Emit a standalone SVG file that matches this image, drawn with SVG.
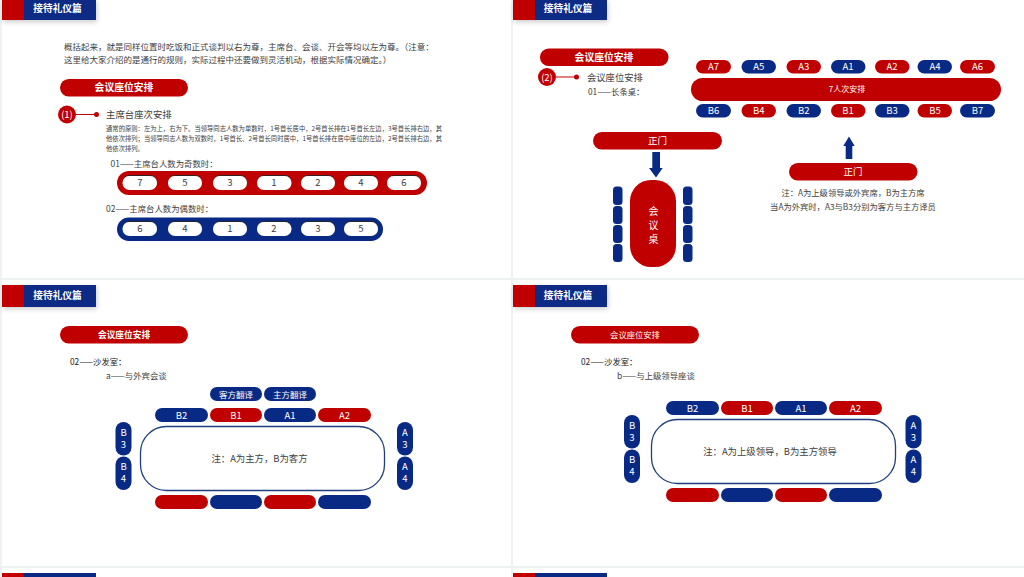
<svg xmlns="http://www.w3.org/2000/svg" width="1024" height="577" viewBox="0 0 1024 577">
<defs>
<filter id="hs" x="-10%" y="-20%" width="125%" height="160%"><feDropShadow dx="1" dy="2" stdDeviation="2.5" flood-color="#000" flood-opacity=".2"/></filter>
<filter id="ins" x="-10%" y="-30%" width="120%" height="160%"><feDropShadow dx="0" dy="-1" stdDeviation=".5" flood-color="#222" flood-opacity=".9"/></filter>
</defs>
<style>
text{font-family:"Noto Sans CJK SC","Noto Sans",sans-serif;fill:#404040}
.r{fill:#c00000}.b{fill:#092a84}.w{fill:#fff}
.sp{fill:#fff;filter:url(#ins)}
.c{text-anchor:middle}
.t{fill:#fff;text-anchor:middle;font-size:9.5px}
.h{fill:#fff;font-size:9.7px;font-weight:700;text-anchor:middle}
.p{fill:#fff;text-anchor:middle;font-size:9.8px;font-weight:700}
.s{font-size:9.5px;text-anchor:middle;fill:#404040}
.l{stroke:#c00000;stroke-width:1;fill:none}
.tb{fill:#fff;stroke:#1f3f7e;stroke-width:1.3}
</style>
<rect width="1024" height="577" fill="#eef2f2"/>
<g id="panels" class="w">
<rect x="2" y="0" width="509" height="278"/><rect x="513" y="0" width="511" height="278"/>
<rect x="2" y="280" width="509" height="286"/><rect x="513" y="280" width="511" height="286"/>
<rect x="2" y="568" width="509" height="9"/><rect x="513" y="568" width="511" height="9"/>
</g>
<g id="headers">
<g id="header-1" filter="url(#hs)"><rect class="r" x="2" y="0" width="22" height="20"/><rect class="b" x="24" y="0" width="72" height="20"/></g><text class="h" x="57.500" y="11.500">接待礼仪篇</text>
<g id="header-2" filter="url(#hs)"><rect class="r" x="513" y="0" width="22" height="20"/><rect class="b" x="535" y="0" width="72" height="20"/></g><text class="h" x="568" y="11.500">接待礼仪篇</text>
<g id="header-3" filter="url(#hs)"><rect class="r" x="2" y="285" width="22" height="22"/><rect class="b" x="24" y="285" width="72" height="22"/></g><text class="h" x="57.500" y="299">接待礼仪篇</text>
<g id="header-4" filter="url(#hs)"><rect class="r" x="513" y="285" width="22" height="22"/><rect class="b" x="535" y="285" width="72" height="22"/></g><text class="h" x="568" y="299">接待礼仪篇</text>
<g id="header-5"><rect class="r" x="2" y="573" width="22" height="4"/><rect class="b" x="24" y="573" width="72" height="4"/></g>
<g id="header-6"><rect class="r" x="513" y="573" width="22" height="4"/><rect class="b" x="535" y="573" width="72" height="4"/></g>
</g>
<g id="connectors">
<line class="l" x1="76" y1="114.500" x2="96" y2="114.500"/>
<line class="l" x1="556" y1="77" x2="576" y2="77"/>
<path id="arrow-down" class="b" d="M652.300 152H660V168H662.700L656 177.500L649 168H652.300Z"/>
<path id="arrow-up" class="b" d="M845.700 159V146H843.300L849 136.500L854.700 146H852.300V159Z"/>
</g>

<g id="slide-1">
<text font-size="8.500" x="64" y="50">概括起来&#xFF0C;就是同样位置时吃饭和正式谈判以右为尊&#xFF0C;主席台、会谈、开会等均以左为尊。&#xFF08;注意&#xFF1A;</text>
<text font-size="8.500" x="64" y="63">这里给大家介绍的是通行的规则&#xFF0C;实际过程中还要做到灵活机动&#xFF0C;根据实际情况确定。&#xFF09;</text>
<g id="s1-title"><rect class="r" x="60" y="79" width="128" height="17.500" rx="8.750"/><text class="p" x="124" y="91">会议座位安排</text></g>
<g id="s1-num"><circle class="r" cx="67" cy="114.500" r="9"/><text class="t" x="67" y="118">(1)</text></g>
<circle id="s1-dot" class="r" cx="96.500" cy="114.500" r="2.500"/>
<text font-size="9.400" x="106" y="117.500">主席台座次安排</text>
<text font-size="6.320" x="106" y="131">通常的原则&#xFF1A;左为上&#xFF0C;右为下。当领导同志人数为单数时&#xFF0C;1号首长居中&#xFF0C;2号首长排在1号首长左边&#xFF0C;3号首长排右边&#xFF0C;其</text>
<text font-size="6.320" x="106" y="141">他依次排列&#xFF1B;当领导同志人数为双数时&#xFF0C;1号首长、2号首长同时居中&#xFF0C;1号首长排在居中座位的左边&#xFF0C;2号首长排右边&#xFF0C;其</text>
<text font-size="6.320" x="106" y="151">他依次排列。</text>
<text font-size="8.400" x="110.500" y="167">01——主席台人数为奇数时&#xFF1A;</text>
<g id="odd-bar"><rect class="r" x="117" y="171" width="310" height="24" rx="12"/>
<g id="odd-7"><rect x="122.500" y="176" width="34.500" height="14" rx="7" class="sp"/><text class="s" x="140" y="186">7</text></g>
<g id="odd-5"><rect x="168" y="176" width="34" height="14" rx="7" class="sp"/><text class="s" x="185" y="186">5</text></g>
<g id="odd-3"><rect x="213" y="176" width="34" height="14" rx="7" class="sp"/><text class="s" x="230" y="186">3</text></g>
<g id="odd-1"><rect x="257" y="176" width="34.500" height="14" rx="7" class="sp"/><text class="s" x="274" y="186">1</text></g>
<g id="odd-2"><rect x="301" y="176" width="34" height="14" rx="7" class="sp"/><text class="s" x="318" y="186">2</text></g>
<g id="odd-4"><rect x="344" y="176" width="34" height="14" rx="7" class="sp"/><text class="s" x="361" y="186">4</text></g>
<g id="odd-6"><rect x="387" y="176" width="34" height="14" rx="7" class="sp"/><text class="s" x="404" y="186">6</text></g>
</g>
<text font-size="8.400" x="106" y="212">02——主席台人数为偶数时&#xFF1A;</text>
<g id="even-bar"><rect class="b" x="117" y="217.500" width="266" height="23.500" rx="11.750"/>
<g id="even-6"><rect x="122.500" y="222" width="34.500" height="14" rx="7" class="sp"/><text class="s" x="140" y="232">6</text></g>
<g id="even-4"><rect x="168" y="222" width="34" height="14" rx="7" class="sp"/><text class="s" x="185" y="232">4</text></g>
<g id="even-1"><rect x="213" y="222" width="34" height="14" rx="7" class="sp"/><text class="s" x="230" y="232">1</text></g>
<g id="even-2"><rect x="257" y="222" width="34.500" height="14" rx="7" class="sp"/><text class="s" x="274" y="232">2</text></g>
<g id="even-3"><rect x="301" y="222" width="34" height="14" rx="7" class="sp"/><text class="s" x="318" y="232">3</text></g>
<g id="even-5"><rect x="344" y="222" width="34" height="14" rx="7" class="sp"/><text class="s" x="361" y="232">5</text></g>
</g>
</g>

<g id="slide-2">
<g id="s2-title"><rect class="r" x="540" y="48.500" width="128.500" height="17.500" rx="8.750"/><text class="p" x="604" y="60.500">会议座位安排</text></g>
<g id="s2-num"><circle class="r" cx="547" cy="77" r="9"/><text class="t" x="547" y="80.500">(2)</text></g>
<circle id="s2-dot" class="r" cx="576.500" cy="77" r="2.500"/>
<text font-size="9.300" x="587" y="81">会议座位安排</text>
<text font-size="8.300" x="588" y="95">01——长条桌&#xFF1A;</text>
<g id="seats-a">
<g><rect class="r" x="696" y="60" width="35" height="13.500" rx="6.750"/><text class="t" x="713.500" y="70">A7</text></g>
<g><rect class="b" x="741.500" y="60" width="34.500" height="13.500" rx="6.750"/><text class="t" x="758.700" y="70">A5</text></g>
<g><rect class="r" x="786.500" y="60" width="34.500" height="13.500" rx="6.750"/><text class="t" x="803.700" y="70">A3</text></g>
<g><rect class="b" x="831" y="60" width="34.500" height="13.500" rx="6.750"/><text class="t" x="848" y="70">A1</text></g>
<g><rect class="r" x="875" y="60" width="34.500" height="13.500" rx="6.750"/><text class="t" x="892" y="70">A2</text></g>
<g><rect class="b" x="917.500" y="60" width="34.500" height="13.500" rx="6.750"/><text class="t" x="935" y="70">A4</text></g>
<g><rect class="r" x="960" y="60" width="35" height="13.500" rx="6.750"/><text class="t" x="977.500" y="70">A6</text></g>
</g>
<g id="long-table"><rect class="r" x="691" y="78" width="310" height="23" rx="11.500"/><text class="t" x="847" y="92" style="font-size:8px">7人次安排</text></g>
<g id="seats-b">
<g><rect class="b" x="696" y="104" width="35" height="13.500" rx="6.750"/><text class="t" x="713.500" y="114">B6</text></g>
<g><rect class="r" x="741.500" y="104" width="34.500" height="13.500" rx="6.750"/><text class="t" x="758.700" y="114">B4</text></g>
<g><rect class="b" x="786.500" y="104" width="34.500" height="13.500" rx="6.750"/><text class="t" x="803.700" y="114">B2</text></g>
<g><rect class="r" x="831" y="104" width="34.500" height="13.500" rx="6.750"/><text class="t" x="848" y="114">B1</text></g>
<g><rect class="b" x="875" y="104" width="34.500" height="13.500" rx="6.750"/><text class="t" x="892" y="114">B3</text></g>
<g><rect class="r" x="917.500" y="104" width="34.500" height="13.500" rx="6.750"/><text class="t" x="935" y="114">B5</text></g>
<g><rect class="b" x="960" y="104" width="35" height="13.500" rx="6.750"/><text class="t" x="977.500" y="114">B7</text></g>
</g>
<g id="door-left"><rect class="r" x="593" y="132" width="129" height="17.500" rx="8.750"/><text class="t" x="657.500" y="144">正门</text></g>
<g id="meeting-table"><rect class="r" x="630" y="180" width="46" height="87" rx="21"/>
<text class="t" x="653.500" y="215" style="font-size:10px">会</text><text class="t" x="653.500" y="229" style="font-size:10px">议</text><text class="t" x="653.500" y="243" style="font-size:10px">桌</text></g>
<g id="chairs" class="b">
<rect x="613" y="186.500" width="9.500" height="18.500" rx="3.500"/><rect x="613" y="206" width="9.500" height="18" rx="3.500"/><rect x="613" y="225" width="9.500" height="18" rx="3.500"/><rect x="613" y="244" width="9.500" height="18" rx="3.500"/>
<rect x="683" y="186.500" width="9.500" height="18.500" rx="3.500"/><rect x="683" y="206" width="9.500" height="18" rx="3.500"/><rect x="683" y="225" width="9.500" height="18" rx="3.500"/><rect x="683" y="244" width="9.500" height="18" rx="3.500"/>
</g>
<g id="door-right"><rect class="r" x="789" y="163" width="128.500" height="17.500" rx="8.750"/><text class="t" x="853" y="175">正门</text></g>
<text class="c" font-size="8.300" x="853" y="196">注&#xFF1A;A为上级领导或外宾席&#xFF0C;B为主方席</text>
<text class="c" font-size="8.300" x="853" y="210">当A为外宾时&#xFF0C;A3与B3分别为客方与主方译员</text>
</g>

<g id="slide-3">
<g id="s3-title"><rect class="r" x="60" y="326" width="128" height="17.500" rx="8.750"/><text class="p" x="124" y="338" style="font-size:8.700px">会议座位安排</text></g>
<text font-size="8.300" x="70" y="365" style="fill:#222">02——沙发室&#xFF1A;</text>
<text font-size="8.400" x="106" y="379">a——与外宾会谈</text>
<g id="s3-tr1"><rect class="b" x="210" y="387" width="52" height="14" rx="7"/><text class="t" x="236" y="397.500" style="font-size:8.500px">客方翻译</text></g>
<g id="s3-tr2"><rect class="b" x="264" y="387" width="52" height="14" rx="7"/><text class="t" x="290" y="397.500" style="font-size:8.500px">主方翻译</text></g>
<g id="s3-b2"><rect class="b" x="155" y="408" width="53" height="14" rx="7"/><text class="t" x="181.500" y="418.500">B2</text></g>
<g id="s3-b1"><rect class="r" x="210" y="408" width="52" height="14" rx="7"/><text class="t" x="236" y="418.500">B1</text></g>
<g id="s3-a1"><rect class="b" x="264" y="408" width="52" height="14" rx="7"/><text class="t" x="290" y="418.500">A1</text></g>
<g id="s3-a2"><rect class="r" x="318" y="408" width="53" height="14" rx="7"/><text class="t" x="344.500" y="418.500">A2</text></g>
<g id="s3-table"><rect class="tb" x="140.500" y="426.500" width="244" height="64" rx="26"/><text class="c" font-size="9.400" x="259.500" y="462">注&#xFF1A;A为主方&#xFF0C;B为客方</text></g>
<g id="s3-b3"><rect class="b" x="115.500" y="422" width="16" height="33.500" rx="8"/><text class="t" x="123.500" y="436">B</text><text class="t" x="123.500" y="448">3</text></g>
<g id="s3-b4"><rect class="b" x="115.500" y="456.500" width="16" height="33.500" rx="8"/><text class="t" x="123.500" y="470">B</text><text class="t" x="123.500" y="482">4</text></g>
<g id="s3-a3"><rect class="b" x="397" y="422" width="16" height="33.500" rx="8"/><text class="t" x="405" y="436">A</text><text class="t" x="405" y="448">3</text></g>
<g id="s3-a4"><rect class="b" x="397" y="456.500" width="16" height="33.500" rx="8"/><text class="t" x="405" y="470">A</text><text class="t" x="405" y="482">4</text></g>
<g id="s3-bottom"><rect class="r" x="155" y="495" width="53" height="14" rx="7"/><rect class="b" x="210" y="495" width="52" height="14" rx="7"/><rect class="r" x="264" y="495" width="52" height="14" rx="7"/><rect class="b" x="318" y="495" width="53" height="14" rx="7"/></g>
</g>

<g id="slide-4">
<g id="s4-title"><rect class="r" x="571" y="326" width="128" height="17.500" rx="8.750"/><text class="p" x="635" y="338" style="font-size:8.300px;font-weight:400">会议座位安排</text></g>
<text font-size="8.300" x="581" y="365" style="fill:#222">02——沙发室&#xFF1A;</text>
<text font-size="8.400" x="617" y="379">b——与上级领导座谈</text>
<g id="s4-b2"><rect class="b" x="666" y="401" width="53" height="14" rx="7"/><text class="t" x="692.500" y="411.500">B2</text></g>
<g id="s4-b1"><rect class="r" x="721" y="401" width="52" height="14" rx="7"/><text class="t" x="747" y="411.500">B1</text></g>
<g id="s4-a1"><rect class="b" x="775" y="401" width="52" height="14" rx="7"/><text class="t" x="801" y="411.500">A1</text></g>
<g id="s4-a2"><rect class="r" x="829" y="401" width="53" height="14" rx="7"/><text class="t" x="855.500" y="411.500">A2</text></g>
<g id="s4-table"><rect class="tb" x="651.500" y="419.500" width="244" height="64" rx="26"/><text class="c" font-size="9.400" x="770" y="455">注&#xFF1A;A为上级领导&#xFF0C;B为主方领导</text></g>
<g id="s4-b3"><rect class="b" x="624" y="415" width="16" height="33.500" rx="8"/><text class="t" x="632" y="429">B</text><text class="t" x="632" y="441">3</text></g>
<g id="s4-b4"><rect class="b" x="624" y="449.500" width="16" height="33.500" rx="8"/><text class="t" x="632" y="463">B</text><text class="t" x="632" y="475">4</text></g>
<g id="s4-a3"><rect class="b" x="905.500" y="415" width="16" height="33.500" rx="8"/><text class="t" x="913.500" y="429">A</text><text class="t" x="913.500" y="441">3</text></g>
<g id="s4-a4"><rect class="b" x="905.500" y="449.500" width="16" height="33.500" rx="8"/><text class="t" x="913.500" y="463">A</text><text class="t" x="913.500" y="475">4</text></g>
<g id="s4-bottom"><rect class="r" x="666" y="488" width="53" height="14" rx="7"/><rect class="b" x="721" y="488" width="52" height="14" rx="7"/><rect class="r" x="775" y="488" width="52" height="14" rx="7"/><rect class="b" x="829" y="488" width="53" height="14" rx="7"/></g>
</g>
</svg>
